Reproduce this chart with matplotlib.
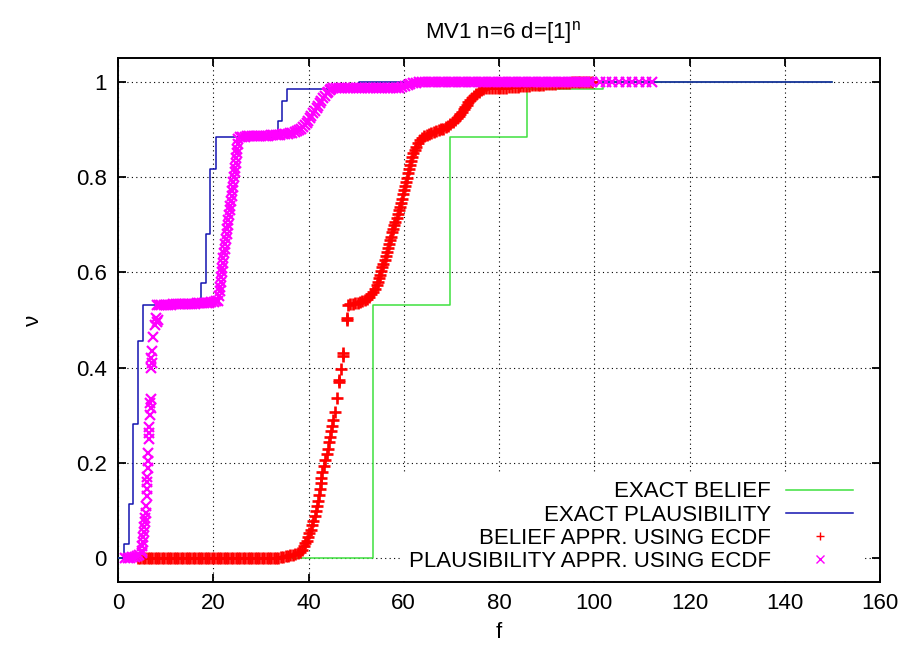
import matplotlib
matplotlib.use("Agg")
import matplotlib.pyplot as plt

plt.rcParams['font.family'] = ['Liberation Sans', 'DejaVu Sans']
plt.rcParams['mathtext.fontset'] = 'custom'
plt.rcParams['mathtext.rm'] = 'Liberation Sans'
plt.rcParams['mathtext.it'] = 'Liberation Sans'

# ---------------- data ----------------
title = r'MV1 n=6 d=[1]$^{\mathrm{n}}$'
x_label = 'f'
y_label = 'ν'
x_ticks = [0, 20, 40, 60, 80, 100, 120, 140, 160]
x_tick_labels = ['0', '20', '40', '60', '80', '100', '120', '140', '160']
y_ticks = [0, 0.2, 0.4, 0.6, 0.8, 1.0]
y_tick_labels = ['0', '0.2', '0.4', '0.6', '0.8', '1']

series_labels = ['EXACT BELIEF', 'EXACT PLAUSIBILITY',
                 'BELIEF APPR. USING ECDF', 'PLAUSIBILITY APPR. USING ECDF']

# exact belief (step function)
belief_f = [0, 53.6, 69.7, 85.9, 101.9, 150]
belief_nu = [0, 0.531, 0.885, 0.985, 1.0, 1.0]

# exact plausibility (step function)
plaus_f = [0, 1.26, 2.3, 3.2, 4.26, 5.3, 17.35, 18.4, 19.3, 20.5, 33.5, 34.5, 35.5, 50.6, 150]
plaus_nu = [0, 0.03, 0.114, 0.282, 0.456, 0.531, 0.578, 0.681, 0.817, 0.885, 0.917, 0.959, 0.985, 1.0, 1.0]

# belief approximation using ECDF
belief_ecdf_f = [
    4.2, 4.7, 5.2, 5.7, 6.2, 6.7, 7.2, 7.7, 8.2, 8.7,
    9.2, 9.7, 10.2, 10.7, 11.2, 11.7, 12.2, 12.7, 13.2, 13.7,
    14.2, 14.7, 15.2, 15.7, 16.2, 16.7, 17.2, 17.7, 18.2, 18.7,
    19.2, 19.7, 20.2, 20.7, 21.2, 21.7, 22.2, 22.7, 23.2, 23.7,
    24.2, 24.7, 25.2, 25.7, 26.2, 26.7, 27.2, 27.7, 28.2, 28.7,
    29.2, 29.7, 30.2, 30.7, 31.2, 31.7, 32.2, 32.7, 33.2, 33.7,
    34.2, 34.7, 35.2,
    35.7, 36.2, 36.7, 37.2, 37.7, 38.2, 38.6, 39.0, 39.3, 39.6,
    39.9, 40.2, 40.5, 40.8, 41.0, 41.3, 41.5, 41.8, 42.0, 42.2,
    42.4, 42.6, 42.7, 42.9, 43.2, 43.5, 43.8, 44.0, 44.3, 44.5,
    44.8, 45.0, 45.2, 45.5, 45.9, 46.4, 46.5, 46.8, 47.2, 47.3,
    48.0, 48.1, 48.3, 48.8, 49.3, 49.8, 50.3, 50.8, 51.3, 51.8,
    52.3, 52.8, 53.2, 53.6, 54.0, 54.3, 54.6, 54.8, 55.0, 55.2,
    55.5, 55.7, 56.0, 56.2, 56.4, 56.7, 56.9, 57.1, 57.3, 57.6,
    57.8, 58.0, 58.2, 58.5, 58.7, 58.9, 59.2, 59.4, 59.7, 59.9,
    60.1, 60.3, 60.5, 60.7, 60.9, 61.1, 61.3, 61.6, 61.8, 62.0,
    62.3, 62.6, 63.0, 63.4, 63.8, 64.3, 64.8, 65.3, 65.8, 66.3,
    66.8, 67.3, 67.8, 68.3, 68.8, 69.3, 69.8, 70.3, 70.7, 71.1,
    71.5, 71.9, 72.3, 72.6, 72.9, 73.2, 73.5, 73.9, 74.3, 74.7,
    75.2, 75.7, 76.2, 76.7, 77.3, 77.9, 78.5, 79.1, 79.7, 80.3,
    80.9, 81.5, 82.1, 82.7, 83.3, 83.9, 84.5, 85.1, 85.7, 86.3,
    86.9, 87.5, 88.1, 88.7, 89.3, 89.9, 90.5, 91.1, 91.7, 92.3,
    92.9, 93.5, 94.1, 94.7, 95.3, 95.9, 96.5, 97.1, 97.7, 98.3,
    98.9, 99.5,
]
belief_ecdf_nu = [
    0.0, 0.0, 0.0, 0.0, 0.0, 0.0, 0.0, 0.0, 0.0, 0.0,
    0.0, 0.0, 0.0, 0.0, 0.0, 0.0, 0.0, 0.0, 0.0, 0.0,
    0.0, 0.0, 0.0, 0.0, 0.0, 0.0, 0.0, 0.0, 0.0, 0.0,
    0.0, 0.0, 0.0, 0.0, 0.0, 0.0, 0.0, 0.0, 0.0, 0.0,
    0.0, 0.0, 0.0, 0.0, 0.0, 0.0, 0.0, 0.0, 0.0, 0.0,
    0.0, 0.0, 0.0, 0.0, 0.0, 0.0, 0.0, 0.0, 0.001, 0.001,
    0.002, 0.003, 0.004,
    0.005, 0.006, 0.007, 0.008, 0.010, 0.012, 0.018, 0.025, 0.031, 0.036,
    0.044, 0.052, 0.060, 0.069, 0.078, 0.088, 0.098, 0.109, 0.120, 0.132,
    0.145, 0.157, 0.169, 0.181, 0.193, 0.206, 0.218, 0.230, 0.243, 0.255,
    0.267, 0.278, 0.290, 0.306, 0.337, 0.369, 0.373, 0.397, 0.425, 0.430,
    0.500, 0.505, 0.531, 0.533, 0.534, 0.535, 0.536, 0.538, 0.540, 0.542,
    0.545, 0.549, 0.554, 0.559, 0.566, 0.573, 0.580, 0.588, 0.595, 0.603,
    0.611, 0.618, 0.626, 0.634, 0.642, 0.651, 0.659, 0.667, 0.675, 0.684,
    0.692, 0.699, 0.706, 0.714, 0.722, 0.730, 0.737, 0.746, 0.755, 0.764,
    0.772, 0.781, 0.790, 0.799, 0.808, 0.816, 0.825, 0.834, 0.842, 0.850,
    0.857, 0.864, 0.871, 0.878, 0.883, 0.886, 0.888, 0.890, 0.892, 0.894,
    0.896, 0.898, 0.900, 0.902, 0.905, 0.908, 0.912, 0.916, 0.920, 0.925,
    0.929, 0.933, 0.937, 0.942, 0.947, 0.952, 0.957, 0.962, 0.967, 0.971,
    0.975, 0.979, 0.982, 0.985, 0.986, 0.986, 0.986, 0.987, 0.987, 0.987,
    0.988, 0.988, 0.989, 0.989, 0.990, 0.990, 0.991, 0.991, 0.992, 0.992,
    0.993, 0.993, 0.993, 0.994, 0.994, 0.995, 0.995, 0.996, 0.996, 0.997,
    0.997, 0.998, 0.998, 0.998, 0.999, 0.999, 0.999, 1.0, 1.0, 1.0,
    1.0, 1.0,
]

# plausibility approximation using ECDF
plaus_ecdf_f = [
    1.5, 2.0, 2.5, 3.0, 3.5, 4.0, 4.5, 5.0,
    5.0, 5.1, 5.2, 5.3, 5.4, 5.5, 5.6, 5.7, 5.8, 5.9,
    6.0, 6.1, 6.0, 6.1, 6.3, 6.4, 6.4, 6.5, 6.5, 6.6,
    6.8, 6.9, 6.8, 6.9, 7.0, 7.1, 7.0, 7.1, 7.4, 7.8,
    8.1, 8.4, 8.0,
    8.1, 8.6, 9.1, 9.6, 10.1, 10.6, 11.1, 11.6, 12.1, 12.6,
    13.1, 13.6, 14.1, 14.6, 15.1, 15.6, 16.1, 16.6, 17.1, 17.6,
    18.1, 18.6, 19.1, 19.6, 20.1, 20.6,
    21.0, 21.2, 21.4, 21.5, 21.6, 21.7, 21.8, 21.9, 22.05, 22.15,
    22.3, 22.4, 22.55, 22.7, 22.8, 22.95, 23.1, 23.2, 23.35, 23.5,
    23.6, 23.75, 23.85, 24.0, 24.1, 24.25, 24.35, 24.5, 24.6, 24.7,
    24.8, 24.95, 25.05, 25.15, 25.3,
    25.6, 26.1, 26.6, 27.1, 27.6, 28.1, 28.6, 29.1, 29.6, 30.1,
    30.6, 31.1, 31.6, 32.1, 32.6, 33.1, 33.6, 34.1, 34.6, 35.1,
    35.6, 36.1, 36.6, 37.1,
    37.6, 38.0, 38.4, 38.8, 39.2, 39.6, 39.9, 40.3, 40.6, 41.0,
    41.3, 41.7, 42.0, 42.4, 42.7, 43.1, 43.4, 43.8, 44.1, 44.5,
    44.8, 45.2,
    45.8, 46.4, 47.0, 47.6, 48.2, 48.8, 49.4, 50.0, 50.6, 51.2,
    51.8, 52.4, 53.0, 53.6, 54.2, 54.8, 55.4, 56.0, 56.6, 57.2,
    57.8, 58.4,
    59.0, 59.6, 60.2, 60.8, 61.4, 62.0, 62.6, 63.2,
    63.8, 64.5, 65.2, 65.9, 66.6, 67.3, 68.0, 68.7, 69.4, 70.1,
    70.8, 71.5, 72.2, 72.9, 73.6, 74.3, 75.0, 75.7, 76.4, 77.1,
    77.8, 78.5, 79.2, 79.9, 80.6, 81.3, 82.0, 82.7, 83.4, 84.1,
    84.8, 85.5, 86.2, 86.9, 87.6, 88.3, 89.0, 89.7, 90.4, 91.1,
    91.8, 92.5, 93.2, 93.9, 94.6, 95.3, 96.0, 96.7, 97.4, 98.1,
    98.8, 99.5,
    101.2, 102.4, 103.8, 105.3, 106.6, 108.0, 109.5, 110.8, 112.2,
]
plaus_ecdf_nu = [
    0.0, 0.001, 0.001, 0.002, 0.003, 0.004, 0.006, 0.010,
    0.015, 0.025, 0.035, 0.045, 0.055, 0.065, 0.075, 0.085, 0.095, 0.110,
    0.130, 0.145, 0.160, 0.170, 0.190, 0.205, 0.220, 0.250, 0.262, 0.275,
    0.300, 0.315, 0.325, 0.335, 0.400, 0.410, 0.420, 0.435, 0.464, 0.490,
    0.495, 0.500, 0.505,
    0.531, 0.531, 0.532, 0.532, 0.532, 0.532, 0.532, 0.533, 0.533, 0.533,
    0.533, 0.533, 0.534, 0.534, 0.534, 0.534, 0.534, 0.535, 0.535, 0.535,
    0.535, 0.536, 0.536, 0.537, 0.538, 0.539,
    0.54, 0.55, 0.56, 0.57, 0.58, 0.59, 0.60, 0.61, 0.62, 0.63,
    0.64, 0.65, 0.66, 0.67, 0.68, 0.69, 0.70, 0.71, 0.72, 0.73,
    0.74, 0.75, 0.76, 0.77, 0.78, 0.79, 0.80, 0.81, 0.82, 0.83,
    0.84, 0.85, 0.86, 0.87, 0.88,
    0.885, 0.885, 0.885, 0.886, 0.886, 0.886, 0.886, 0.886, 0.887, 0.887,
    0.887, 0.887, 0.887, 0.888, 0.888, 0.888, 0.889, 0.889, 0.890, 0.890,
    0.891, 0.892, 0.893, 0.894,
    0.896, 0.899, 0.902, 0.906, 0.909, 0.913, 0.918, 0.923, 0.928, 0.934,
    0.939, 0.944, 0.949, 0.955, 0.960, 0.966, 0.971, 0.976, 0.979, 0.982,
    0.985, 0.987,
    0.987, 0.987, 0.987, 0.987, 0.987, 0.987, 0.987, 0.987, 0.987, 0.987,
    0.987, 0.987, 0.987, 0.987, 0.988, 0.988, 0.988, 0.988, 0.988, 0.988,
    0.988, 0.988,
    0.988, 0.989, 0.991, 0.993, 0.995, 0.997, 0.998, 0.999,
    0.999, 0.999, 0.999, 0.999, 0.999, 0.999, 0.999, 0.999, 0.999, 0.999,
    1.0, 1.0, 1.0, 1.0, 1.0, 1.0, 1.0, 1.0, 1.0, 1.0,
    1.0, 1.0, 1.0, 1.0, 1.0, 1.0, 1.0, 1.0, 1.0, 1.0,
    1.0, 1.0, 1.0, 1.0, 1.0, 1.0, 1.0, 1.0, 1.0, 1.0,
    1.0, 1.0, 1.0, 1.0, 1.0, 1.0, 1.0, 1.0, 1.0, 1.0,
    1.0, 1.0,
    1.0, 1.0, 1.0, 1.0, 1.0, 1.0, 1.0, 1.0, 1.0,
]

# ---------------- figure ----------------
W, H = 911, 653
fig = plt.figure(figsize=(W / 100, H / 100), dpi=100)
ax = fig.add_axes([118 / W, 71 / H, 762 / W, 524 / H])

ax.step(belief_f, belief_nu, where='post', color='#3ee03e', lw=1.1,
        label=series_labels[0], zorder=3)
ax.step(plaus_f, plaus_nu, where='post', color='#1414b0', lw=1.1,
        label=series_labels[1], zorder=3)
ax.plot(belief_ecdf_f, belief_ecdf_nu, ls='none', marker='+', ms=8.0, mew=1.9,
        color='#ff0000', label=series_labels[2], zorder=4)
ax.plot(plaus_ecdf_f, plaus_ecdf_nu, ls='none', marker='x', ms=6.8, mew=1.6,
        color='#ff00ff', label=series_labels[3], zorder=4)

ax.set_xlim(0, 160)
ax.set_ylim(-0.05, 1.05)
ax.set_xticks(x_ticks)
ax.set_xticklabels(x_tick_labels)
ax.set_yticks(y_ticks)
ax.set_yticklabels(y_tick_labels)
ax.tick_params(direction='in', top=True, right=True, length=6, width=1.3,
               labelsize=16, pad=8)
for sp in ax.spines.values():
    sp.set_linewidth(1.4)
ax.grid(True, color='black', lw=0.8, linestyle=(0, (1, 3)))

fig.text(503 / W, 1 - 33 / H, title, ha='center', va='center', fontsize=16)
fig.text(499 / W, 1 - 632 / H, x_label, ha='center', va='center', fontsize=16)
fig.text(33 / W, 1 - 320 / H, y_label, ha='center', va='center', fontsize=16,
         rotation=90)

leg = ax.legend(loc='lower right', bbox_to_anchor=((862 - 118) / 762, 0.002),
                borderaxespad=0, markerfirst=False, frameon=True, fancybox=False,
                edgecolor='none', facecolor='white', framealpha=1, fontsize=16,
                handlelength=3.0, handletextpad=0.7, labelspacing=0.1,
                borderpad=0.4, numpoints=1)
for h in leg.legend_handles[2:]:
    h.set_markersize(6.0)
    h.set_markeredgewidth(1.0)

fig.savefig('out.png', dpi=100)
